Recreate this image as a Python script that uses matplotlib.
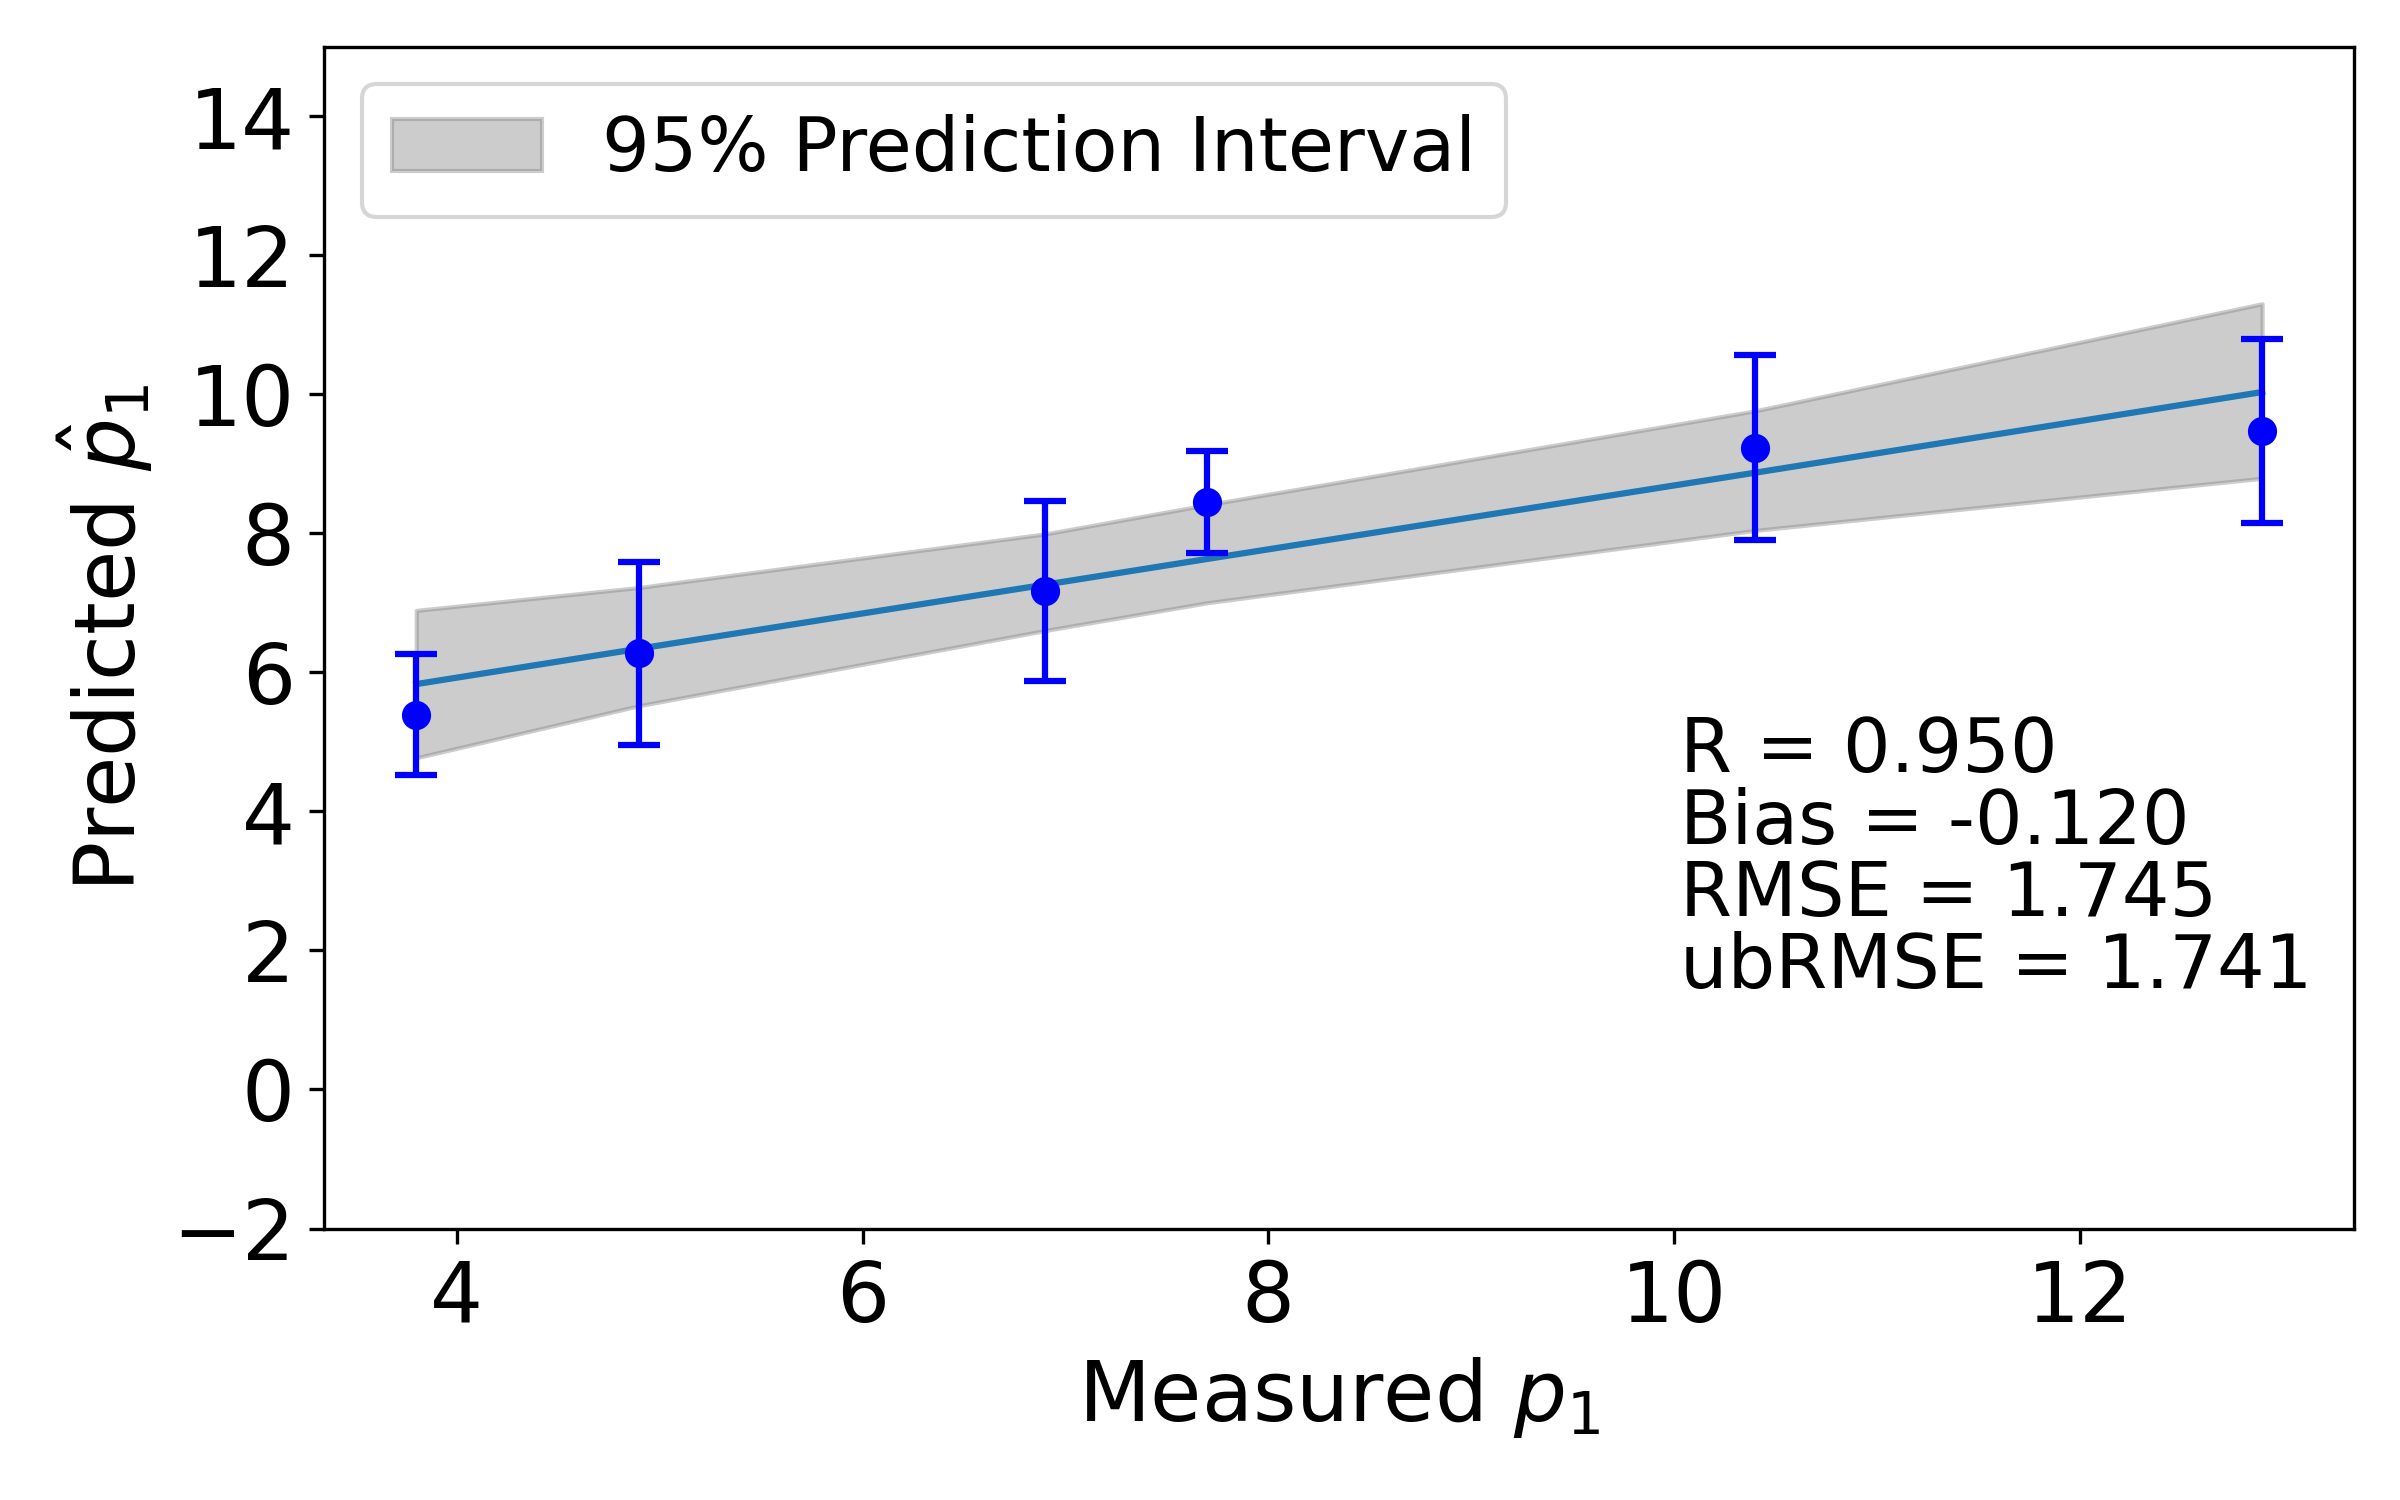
'''
measured vs predicted p1 with prediction interval
'''

import numpy as np
import matplotlib
matplotlib.use('Agg')
import matplotlib.pyplot as plt

# measured values and model predictions
measured = [3.8, 4.9, 6.9, 7.7, 10.4, 12.9]
predicted = [5.39, 6.27, 7.17, 8.45, 9.23, 9.47]
pred_err = [0.87, 1.31, 1.30, 0.73, 1.33, 1.33]

# fitted line and 95% prediction band at the measured points
fit_line = [5.83, 6.34, 7.26, 7.63, 8.87, 10.03]
pi_upper = [6.89, 7.22, 7.99, 8.41, 9.76, 11.30]
pi_lower = [4.77, 5.52, 6.60, 7.00, 8.04, 8.79]

y_ticks = [-2, 0, 2, 4, 6, 8, 10, 12, 14]

stats_txt = 'R = 0.950\nBias = -0.120\nRMSE = 1.745\nubRMSE = 1.741'

fig, ax = plt.subplots(figsize=(8, 5), dpi=300)
plt.subplots_adjust(left=0.135, right=0.981, top=0.969, bottom=0.181)

ax.fill_between(measured, pi_lower, pi_upper, color='gray', alpha=0.4,
                label='95% Prediction Interval')
ax.plot(measured, fit_line, color='C0', lw=1.5)
ax.errorbar(measured, predicted, yerr=pred_err, fmt='o', color='blue',
            ms=6, capsize=5, elinewidth=1.5, capthick=1.5)

ax.set_ylim(-2, 15)
ax.set_yticks(y_ticks)
ax.set_xlabel('Measured $p_1$', fontsize=20)
ax.set_ylabel(r'Predicted $\hat{p}_1$', fontsize=20)
ax.tick_params(labelsize=20)
ax.legend(loc='upper left', fontsize=18)
ax.text(0.668, 0.19, stats_txt, transform=ax.transAxes, fontsize=18,
        va='bottom', ha='left', linespacing=0.98)

plt.savefig('out.png')
